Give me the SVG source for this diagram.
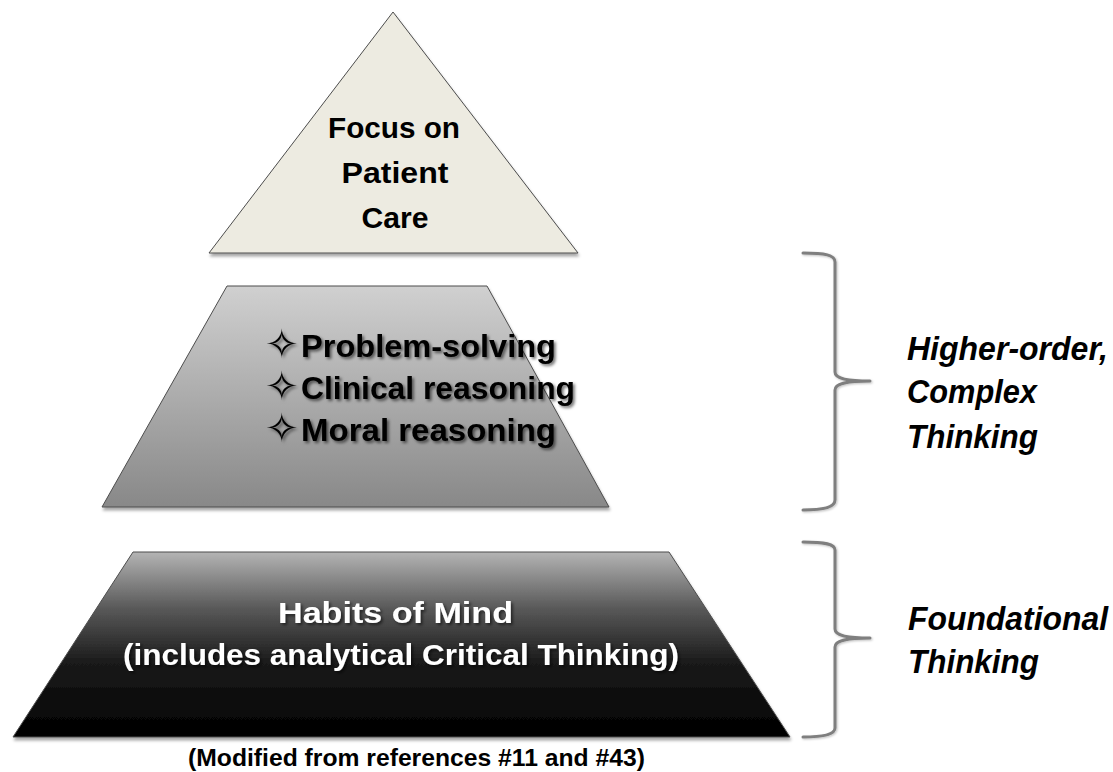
<svg xmlns="http://www.w3.org/2000/svg" width="1113" height="772" viewBox="0 0 1113 772">
<style>
.lbl{font-family:"Liberation Sans",Arial,sans-serif;font-weight:bold}
.side{font-family:"Liberation Sans",Arial,sans-serif;font-weight:bold;font-style:italic;font-size:33px;fill:#000}
.brace{fill:none;stroke:#7f7f7f;stroke-width:3;stroke-linejoin:round;stroke-linecap:round}
.edge{stroke:#4d4d4d;stroke-width:1}
.star{font-family:"DejaVu Sans",sans-serif;font-size:40px;fill:#000}
</style>
<defs>
<linearGradient id="gMid" x1="0" y1="0" x2="0" y2="1">
<stop offset="0" stop-color="#d0d0d0"/>
<stop offset="1" stop-color="#888888"/>
</linearGradient>
<linearGradient id="gBot" x1="0" y1="0" x2="0" y2="1">
<stop offset="0" stop-color="#b4b4b4"/>
<stop offset="0.3" stop-color="#5a5a5a"/>
<stop offset="0.6" stop-color="#1a1a1a"/>
<stop offset="1" stop-color="#000000"/>
</linearGradient>
<filter id="shapeShadow" x="-5%" y="-5%" width="110%" height="115%">
<feDropShadow dx="1" dy="3" stdDeviation="1.5" flood-color="#000" flood-opacity="0.35"/>
</filter>
<filter id="txtShadow" x="-10%" y="-30%" width="120%" height="160%">
<feDropShadow dx="2" dy="2" stdDeviation="1.6" flood-color="#000" flood-opacity="0.55"/>
</filter>
<filter id="braceShadow" x="-20%" y="-5%" width="140%" height="110%">
<feDropShadow dx="1" dy="1" stdDeviation="1" flood-color="#000" flood-opacity="0.25"/>
</filter>
</defs>
<rect width="1113" height="772" fill="#ffffff"/>

<g id="node-top">
<polygon class="edge" points="393,12 209,253 578,253" fill="#edebe1" filter="url(#shapeShadow)"/>
<text class="lbl" font-size="29" fill="#000" text-anchor="middle" x="394" y="138" textLength="132" lengthAdjust="spacingAndGlyphs">Focus on</text>
<text class="lbl" font-size="29" fill="#000" text-anchor="middle" x="395" y="183" textLength="107" lengthAdjust="spacingAndGlyphs">Patient</text>
<text class="lbl" font-size="29" fill="#000" text-anchor="middle" x="395" y="228" textLength="67" lengthAdjust="spacingAndGlyphs">Care</text>
</g>

<g id="node-middle">
<polygon class="edge" points="227,286 487,286 609,507 102,507" fill="url(#gMid)" filter="url(#shapeShadow)"/>
<g filter="url(#txtShadow)">
<text class="star"><tspan x="265" y="358">✧</tspan><tspan x="265" y="400">✧</tspan><tspan x="265" y="442">✧</tspan></text>
<text class="lbl" font-size="32" fill="#000" x="301" y="357" textLength="255" lengthAdjust="spacingAndGlyphs">Problem-solving</text>
<text class="lbl" font-size="32" fill="#000" x="301" y="399" textLength="274" lengthAdjust="spacingAndGlyphs">Clinical reasoning</text>
<text class="lbl" font-size="32" fill="#000" x="301" y="441" textLength="255" lengthAdjust="spacingAndGlyphs">Moral reasoning</text>
</g>
</g>

<g id="node-bottom">
<polygon class="edge" points="133,552 669,552 790,737 13,737" fill="url(#gBot)" filter="url(#shapeShadow)"/>
<g filter="url(#txtShadow)">
<text class="lbl" font-size="29" fill="#ffffff" x="278" y="623" textLength="235" lengthAdjust="spacingAndGlyphs">Habits of Mind</text>
<text class="lbl" font-size="29" fill="#ffffff" x="123" y="665" textLength="556" lengthAdjust="spacingAndGlyphs">(includes analytical Critical Thinking)</text>
</g>
</g>

<g id="connectors">
<path class="brace" filter="url(#braceShadow)" d="M803,253 C825,253 835,255 835,262 L835,372 C835,378 845,381 870,381 C845,381 835,384 835,390 L835,500 C835,507 825,510 803,510"/>
<path class="brace" filter="url(#braceShadow)" d="M803,542 C825,542 835,544 835,550 L835,629 C835,635 845,638 870,638 C845,638 835,641 835,647 L835,728 C835,734 825,737 803,737"/>
</g>

<g id="label-higher">
<text class="side" x="907" y="360" textLength="201" lengthAdjust="spacingAndGlyphs">Higher-order,</text>
<text class="side" x="907" y="403" textLength="130" lengthAdjust="spacingAndGlyphs">Complex</text>
<text class="side" x="907" y="448" textLength="131" lengthAdjust="spacingAndGlyphs">Thinking</text>
</g>

<g id="label-foundational">
<text class="side" x="908" y="630" textLength="200" lengthAdjust="spacingAndGlyphs">Foundational</text>
<text class="side" x="908" y="673" textLength="131" lengthAdjust="spacingAndGlyphs">Thinking</text>
</g>

<g id="caption">
<text class="lbl" font-size="23" fill="#000" x="188" y="766" textLength="457" lengthAdjust="spacingAndGlyphs">(Modified from references #11 and #43)</text>
</g>
</svg>
